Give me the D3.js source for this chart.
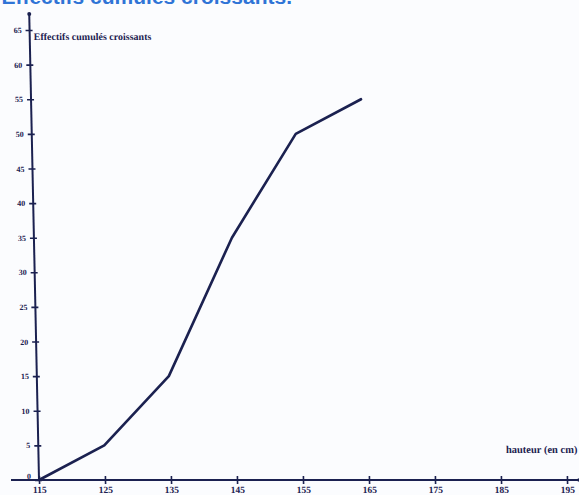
<!DOCTYPE html>
<html>
<head>
<meta charset="utf-8">
<script src="https://cdn.jsdelivr.net/npm/d3@7"></script>
<style>
  html, body { margin: 0; padding: 0; background: #fbfcfe; }
  svg { display: block; }
  text { font-family: "Liberation Serif", "DejaVu Serif", serif; }
</style>
</head>
<body>
<svg id="chart" width="579" height="495"></svg>
<script>
// Data
const hauteurs = [115, 125, 135, 145, 155, 165];
const effectifsCumules = [0, 5, 15, 35, 50, 55];
const xTicks = [115, 125, 135, 145, 155, 165, 175, 185, 195];
const yTicks = [0, 5, 10, 15, 20, 25, 30, 35, 40, 45, 50, 55, 60, 65];
const yTitle = "Effectifs cumulés croissants";
const xTitle = "hauteur (en cm)";
const pageTitle = "Effectifs cumulés croissants.";

const ink = "#1b2150";
const svg = d3.select("#chart");
const ox = 39, oy = 480;

// blue heading cut at the top of the photo
svg.append("text")
  .attr("x", 292).attr("y", 4)
  .attr("text-anchor", "end")
  .style("font-family", "Liberation Sans, Arial, sans-serif")
  .style("font-size", "21px")
  .style("font-weight", "bold")
  .attr("fill", "#2f74d6")
  .text(pageTitle);

const x = d3.scaleLinear().domain([115, 195]).range([0, 528]);
const y = d3.scaleLinear().domain([0, 65]).range([0, -450]);

const g = svg.append("g")
  .attr("transform", `translate(${ox},${oy}) skewX(1.2)`);

// x axis
const xAxis = g.append("g")
  .call(d3.axisBottom(x).tickValues(xTicks).tickSize(4).tickPadding(2).tickFormat(d3.format("d")));
xAxis.select(".domain").remove();
xAxis.selectAll(".tick line").attr("y1", -4).attr("y2", 4).attr("stroke", ink).attr("stroke-width", 1.6);
xAxis.selectAll(".tick text").attr("fill", ink).style("font-size", "9.5px").style("font-weight", "bold");
g.append("line").attr("x1", -28).attr("x2", 540).attr("y1", 0).attr("y2", 0)
  .attr("stroke", ink).attr("stroke-width", 2);

// y axis
const yAxis = g.append("g")
  .call(d3.axisLeft(y).tickValues(yTicks).tickSize(4).tickPadding(4).tickFormat(d3.format("d")));
yAxis.select(".domain").remove();
yAxis.selectAll(".tick line").attr("x1", -4).attr("x2", 3).attr("stroke", ink).attr("stroke-width", 1.6);
yAxis.selectAll(".tick text").attr("fill", ink).style("font-size", "8px").style("font-weight", "bold");
yAxis.selectAll(".tick").filter(d => d === 0).select("text").attr("dy", "-0.2em");
g.append("line").attr("x1", 0).attr("x2", 0).attr("y1", 0).attr("y2", -466)
  .attr("stroke", ink).attr("stroke-width", 2);
g.append("circle").attr("cx", 0).attr("cy", -466).attr("r", 2).attr("fill", ink);
g.append("circle").attr("cx", 540).attr("cy", 0).attr("r", 1.8).attr("fill", ink);

// titles
g.append("text").attr("x", 4).attr("y", y(65) + 10)
  .attr("fill", ink).style("font-size", "10px").style("font-weight", "bold")
  .text(yTitle);
g.append("text").attr("x", 539).attr("y", -27)
  .attr("text-anchor", "end")
  .attr("fill", ink).style("font-size", "10.5px").style("font-weight", "bold")
  .text(xTitle);

// polygon
const line = d3.line().x((d, i) => x(hauteurs[i])).y(d => y(d));
g.append("path").datum(effectifsCumules)
  .attr("d", line)
  .attr("fill", "none")
  .attr("stroke", ink)
  .attr("stroke-width", 2.6)
  .attr("stroke-linejoin", "round")
  .attr("stroke-linecap", "round");
</script>
</body>
</html>
